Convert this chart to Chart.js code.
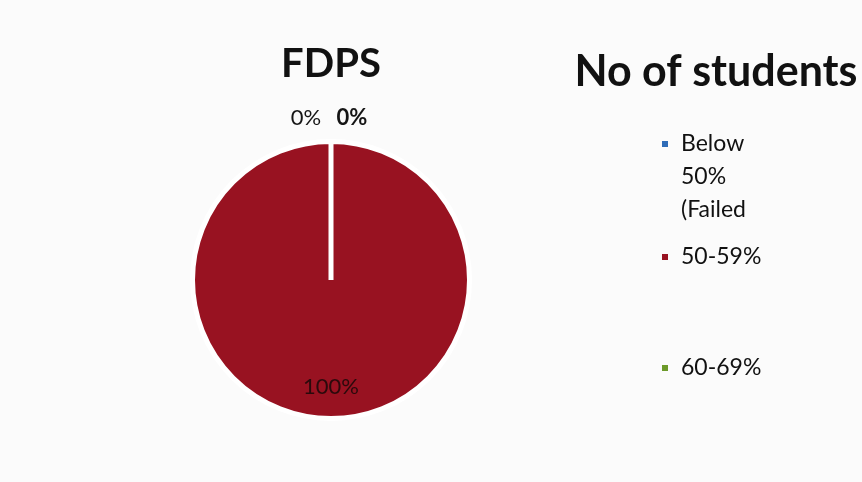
<!DOCTYPE html>
<html>
<head>
<meta charset="utf-8">
<script src="https://cdn.jsdelivr.net/npm/chart.js@4.4.1/dist/chart.umd.min.js"></script>
<style>
  html, body { margin: 0; padding: 0; background: #fbfbfb; }
  #wrap { width: 862px; height: 482px; }
</style>
</head>
<body>
<div id="wrap"><canvas id="fdpsChart" width="862" height="482"></canvas></div>
<script>
// FDPS result bands and share of students in each
const bands = ['Below 50% (Failed', '50-59%', '60-69%']
const shares = [0, 100, 0]
const bandColors = ['#2f6cb8', '#981221', '#6c9a2a']

// percentage labels around / inside the pie
const sliceLabels = {
    id: 'sliceLabels',
    afterDatasetsDraw(chart) {
        const ctx = chart.ctx
        const arcs = chart.getDatasetMeta(0).data
        ctx.save()
        ctx.textAlign = 'center'
        ctx.textBaseline = 'middle'
        arcs.forEach((arc, i) => {
            const {x, y, startAngle, endAngle, outerRadius} = arc.getProps(['x', 'y', 'startAngle', 'endAngle', 'outerRadius'], true)
            const mid = (startAngle + endAngle) / 2
            const value = shares[i]
            let r, dx = 0
            if (value === 0) {
                r = outerRadius * 1.17
                dx = i === 0 ? -25 : 21
                ctx.font = (i === 0 ? '' : 'bold ') + '22px Lato'
                ctx.fillStyle = '#151515'
            } else {
                r = outerRadius * 0.77
                ctx.font = '22px Lato'
                ctx.fillStyle = '#2a0a0c'
            }
            ctx.fillText(value + '%', x + Math.cos(mid) * r + dx, y + Math.sin(mid) * r)
        })
        ctx.restore()
    }
}

// legend on the right, with its own heading
const sideLegend = {
    id: 'sideLegend',
    afterDraw(chart, args, opts) {
        const ctx = chart.ctx
        ctx.save()
        ctx.fillStyle = '#111'
        ctx.font = 'bold 43px Lato'
        ctx.textAlign = 'center'
        ctx.textBaseline = 'middle'
        ctx.fillText(opts.title, opts.titleX, opts.titleY)
        ctx.textAlign = 'left'
        ctx.font = '23px Lato'
        chart.data.labels.forEach((label, i) => {
            const top = opts.rows[i]
            ctx.fillStyle = chart.data.datasets[0].backgroundColor[i]
            ctx.fillRect(opts.x, top - 3, 6, 6)
            ctx.fillStyle = '#111'
            label.split(' ').forEach((word, j) => {
                ctx.fillText(word, opts.x + 19, top + j * opts.lineGap)
            })
        })
        ctx.restore()
    }
}

new Chart(document.getElementById('fdpsChart'), {
    type: 'pie',
    data: {
        labels: bands,
        datasets: [{
            data: shares,
            backgroundColor: bandColors,
            borderColor: '#ffffff',
            borderWidth: 5
        }]
    },
    options: {
        responsive: false,
        animation: false,
        layout: {
            padding: {left: 190, right: 390, top: 0, bottom: 56}
        },
        plugins: {
            legend: {display: false},
            tooltip: {enabled: false},
            title: {
                display: true,
                text: 'FDPS',
                color: '#111',
                font: {family: 'Lato', size: 40, weight: 'bold'},
                padding: {top: 40, bottom: 46}
            },
            sideLegend: {
                title: 'No of students',
                titleX: 716,
                titleY: 72,
                x: 662,
                rows: [144, 257, 368],
                lineGap: 33
            }
        }
    },
    plugins: [sliceLabels, sideLegend]
})
</script>
</body>
</html>
